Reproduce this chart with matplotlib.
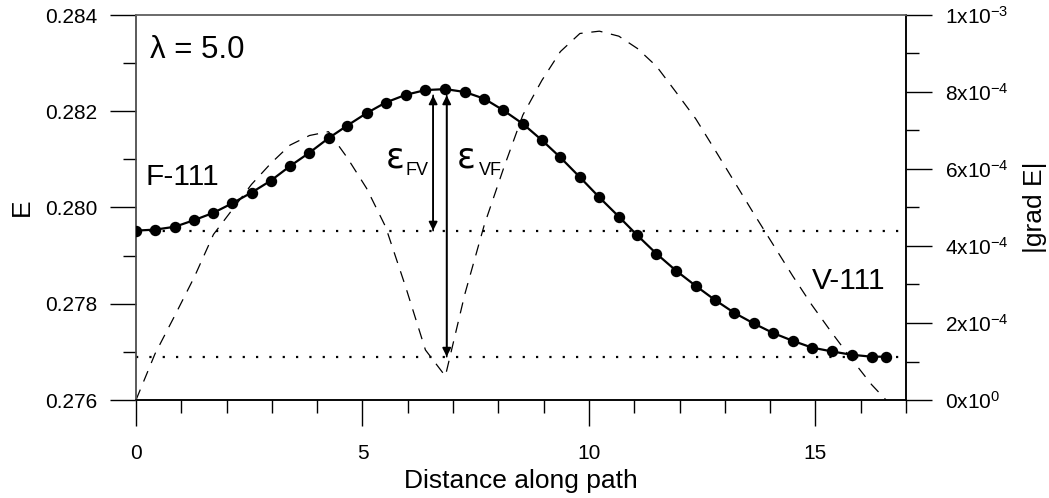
import matplotlib
matplotlib.use("Agg")
import matplotlib.pyplot as plt
from matplotlib.ticker import MultipleLocator, FixedLocator

plt.rcParams['font.family'] = ['Liberation Sans', 'DejaVu Sans']
plt.rcParams['mathtext.fontset'] = 'custom'
plt.rcParams['mathtext.rm'] = 'Liberation Sans'
plt.rcParams['mathtext.it'] = 'Liberation Sans:italic'
plt.rcParams['axes.unicode_minus'] = False

# ---- data ----
dist = [0, 0.42, 0.86, 1.29, 1.71, 2.13, 2.55, 2.98, 3.40, 3.83, 4.25, 4.66, 5.09,
        5.51, 5.95, 6.39, 6.83, 7.26, 7.69, 8.11, 8.54, 8.96, 9.37, 9.80, 10.23,
        10.66, 11.07, 11.49, 11.92, 12.36, 12.78, 13.21, 13.64, 14.07, 14.50,
        14.92, 15.36, 15.80, 16.24, 16.56]
energy = [0.27952, 0.27954, 0.27960, 0.27974, 0.27989, 0.28009, 0.28031, 0.28056,
          0.28086, 0.28114, 0.28144, 0.28170, 0.28196, 0.28218, 0.28234, 0.28244,
          0.28246, 0.28240, 0.28226, 0.28202, 0.28174, 0.28140, 0.28104, 0.28063,
          0.28021, 0.27981, 0.27942, 0.27904, 0.27869, 0.27837, 0.27808, 0.27781,
          0.27759, 0.27739, 0.27723, 0.27709, 0.27701, 0.27694, 0.27690, 0.27690]
grad = [0.0, 1.2e-4, 2.2e-4, 3.2e-4, 4.3e-4, 4.95e-4, 5.6e-4, 6.15e-4, 6.62e-4,
        6.87e-4, 6.97e-4, 6.3e-4, 5.5e-4, 4.5e-4, 2.95e-4, 1.3e-4, 0.62e-4,
        2.75e-4, 4.55e-4, 6.0e-4, 7.4e-4, 8.3e-4, 9.05e-4, 9.52e-4, 9.58e-4,
        9.45e-4, 9.13e-4, 8.67e-4, 8.0e-4, 7.3e-4, 6.5e-4, 5.67e-4, 4.84e-4,
        4.03e-4, 3.22e-4, 2.47e-4, 1.75e-4, 1.06e-4, 0.40e-4, 0.0]

E_F = energy[0]        # F-111 level
E_V = energy[-1]       # V-111 level

xticks = [0, 5, 10, 15]
xticklabels = ['0', '5', '10', '15']
yticks_left = [0.276, 0.278, 0.280, 0.282, 0.284]
yticks_right = [0, 2e-4, 4e-4, 6e-4, 8e-4, 1e-3]
yticklabels_right = [r'$\mathregular{0x10^{0}}$', r'$\mathregular{2x10^{-4}}$',
                     r'$\mathregular{4x10^{-4}}$', r'$\mathregular{6x10^{-4}}$',
                     r'$\mathregular{8x10^{-4}}$', r'$\mathregular{1x10^{-3}}$']

# ---- figure ----
fig = plt.figure(figsize=(10.49, 4.98), dpi=100)
ax = fig.add_axes([136/1049, 1-400/498, (906-136)/1049, (400-15)/498])
ax2 = ax.twinx()
ax.set_zorder(ax2.get_zorder() + 1)
ax.patch.set_visible(False)

# gradient (dashed) on right axis
ax2.plot(dist, grad, color='black', lw=0.9, ls=(0, (9, 7)))
ax2.set_ylim(0, 1e-3)
ax2.yaxis.set_major_locator(FixedLocator(yticks_right))
ax2.set_yticklabels(yticklabels_right)
ax2.yaxis.set_minor_locator(MultipleLocator(1e-4))

# dotted reference lines
ax.axhline(E_F, color='black', lw=1.6, ls=(0, (1, 5)), zorder=1)
ax.axhline(E_V, color='black', lw=1.6, ls=(0, (1, 5)), zorder=1)

# energy curve
ax.plot(dist, energy, color='black', lw=1.6, marker='o', ms=7.2, zorder=3)

ax.set_xlim(0, 17)
ax.set_ylim(0.276, 0.284)
ax.xaxis.set_major_locator(FixedLocator(xticks))
ax.set_xticklabels(xticklabels)
ax.xaxis.set_minor_locator(MultipleLocator(1))
ax.yaxis.set_major_locator(FixedLocator(yticks_left))
ax.yaxis.set_minor_locator(MultipleLocator(0.001))
ax.set_yticklabels([f'{v:.3f}' for v in yticks_left])

for a in (ax, ax2):
    a.tick_params(which='major', direction='out', length=19, width=1.0, labelsize=15, pad=9)
    a.tick_params(which='minor', direction='out', length=9.5, width=1.0)
    for s in a.spines.values():
        s.set_linewidth(1.1)
ax.tick_params(axis='x', which='major', pad=13)
for a in (ax, ax2):
    a.spines['top'].set_color('#666666')
    a.spines['left'].set_color('#555555')

ax.set_xlabel('Distance along path', fontsize=19, labelpad=4)
ax.set_ylabel('E', fontsize=19, labelpad=8)
ax2.set_ylabel('|grad E|', fontsize=19, labelpad=10)

# arrows
arrow_kw = dict(arrowstyle='-|>', lw=1.2, color='black', mutation_scale=13,
                shrinkA=0, shrinkB=0)
for xa, ylo in ((6.56, E_F), (6.86, E_V)):
    ax.annotate('', xy=(xa, ylo), xytext=(xa, 0.28233), arrowprops=arrow_kw, zorder=4)
    ax.annotate('', xy=(xa, 0.28233), xytext=(xa, ylo), arrowprops=arrow_kw, zorder=4)

# annotations
ax.text(0.31, 0.28310, 'λ = 5.0', fontsize=22.5, va='baseline', ha='left')
ax.text(0.20, 0.28046, 'F-111', fontsize=21.5, va='baseline', ha='left')
ax.text(14.92, 0.27831, 'V-111', fontsize=21.5, va='baseline', ha='left')
ax.text(5.52, 0.28083, 'ε', fontsize=25, family='DejaVu Sans', va='baseline', ha='left')
ax.text(5.95, 0.28067, 'FV', fontsize=13, va='baseline', ha='left')
ax.text(7.09, 0.28083, 'ε', fontsize=25, family='DejaVu Sans', va='baseline', ha='left')
ax.text(7.56, 0.28067, 'VF', fontsize=13, va='baseline', ha='left')

fig.savefig('out.png', dpi=100)
